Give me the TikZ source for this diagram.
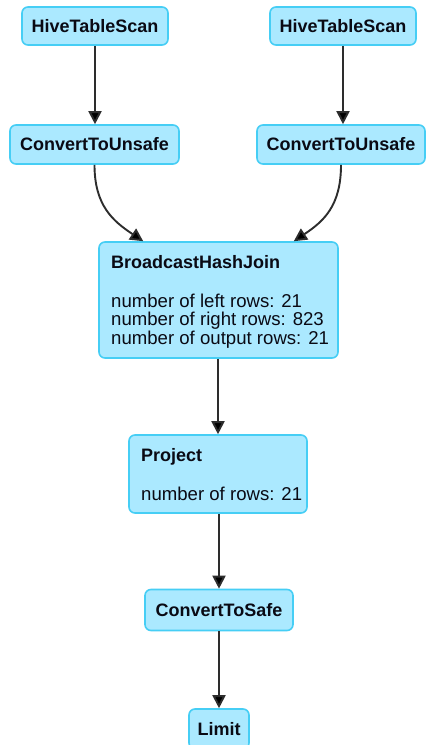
\documentclass[tikz,border=0pt]{standalone}
\usepackage{fontspec}
\setmainfont{Liberation Sans}
\usetikzlibrary{arrows.meta}
\definecolor{boxfill}{RGB}{171,233,255}
\definecolor{boxline}{RGB}{70,206,245}
\definecolor{edgecol}{RGB}{45,45,45}
\definecolor{txt}{RGB}{10,10,20}
\begin{document}
\begin{tikzpicture}[x=1pt,y=-1pt,
  opbox/.style={draw=boxline,fill=boxfill,line width=1.6pt,rounded corners=6pt,inner sep=0pt,
    font=\fontsize{18}{18}\selectfont\bfseries,text=txt},
  titletext/.style={anchor=base west,inner sep=0pt,text=txt,font=\fontsize{18}{18}\selectfont\bfseries},
  metric/.style={anchor=base west,inner sep=0pt,text=txt,font=\fontsize{18.6}{18.6}\selectfont},
  flow/.style={draw=edgecol,line width=1.9pt,-{Triangle[length=13pt,width=13pt,fill=black]}}]
\useasboundingbox (0,0) rectangle (426,745);
\fill[white] (0,0) rectangle (426,745);
% boxes
\node[opbox,minimum width=146pt,minimum height=38pt] (hts1) at (95,26) {HiveTableScan};
\node[opbox,minimum width=146pt,minimum height=38pt] (hts2) at (343,26) {HiveTableScan};
\node[opbox,minimum width=169pt,minimum height=39pt] (ctu1) at (94.5,144.5) {ConvertToUnsafe};
\node[opbox,minimum width=168pt,minimum height=39pt] (ctu2) at (341,144.5) {ConvertToUnsafe};
\node[opbox,minimum width=239pt,minimum height=116pt] (bhj) at (218.5,300) {};
\node[opbox,minimum width=178pt,minimum height=78pt] (proj) at (218,474) {};
\node[opbox,minimum width=148pt,minimum height=41pt] (cts) at (219,610) {ConvertToSafe};
\node[opbox,minimum width=60pt,minimum height=40pt] (lim) at (219,729) {Limit};
% texts inside the detail boxes
\node[titletext] (bhjt) at (111,268) {BroadcastHashJoin};
\node[metric] (bhjm1) at (111,307) {number of left rows: 21};
\node[metric] (bhjm2) at (111,325.5) {number of right rows: 823};
\node[metric] (bhjm3) at (111,344) {number of output rows: 21};
\node[titletext] (projt) at (141,461) {Project};
\node[metric] (projm) at (141,500) {number of rows: 21};
% connectors
\draw[flow] (hts1.south) -- (hts1.south |- ctu1.north);
\draw[flow] (hts2.south) -- (hts2.south |- ctu2.north);
\draw[flow] (ctu1.south) .. controls +(0,41) and +(-30,-20) .. ([xshift=45pt]bhj.north west);
\draw[flow] (ctu2.south) .. controls +(0,41) and +(30,-20) .. ([xshift=-45pt]bhj.north east);
\draw[flow] (proj.north |- bhj.south) -- (proj.north);
\draw[flow] (proj.south -| cts.north) -- (cts.north);
\draw[flow] (cts.south) -- (lim.north);
\end{tikzpicture}
\end{document}
